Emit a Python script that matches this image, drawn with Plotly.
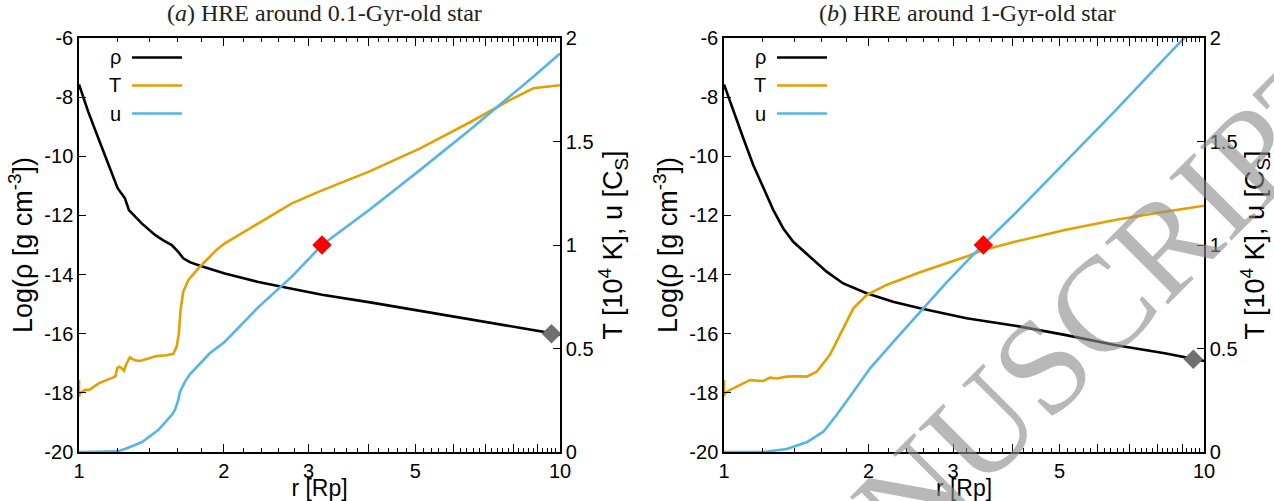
import numpy as np
import plotly.graph_objects as go

W, H = 1274, 501
ML, MR, MT, MB = 79, 70, 38, 49
PW, PH = W - ML - MR, H - MT - MB

# ---------------- data: panel (a) 0.1-Gyr-old star ----------------
r_rho_a = [1.0, 1.045, 1.097, 1.15, 1.203, 1.246, 1.27, 1.35, 1.439, 1.50, 1.559, 1.608,
           1.647, 1.70, 1.784, 2.01, 2.36, 2.77, 3.2, 4.03, 5.12, 6.5, 8.26, 9.6, 10.0]
rho_a = [-7.57, -8.49, -9.39, -10.24, -11.08, -11.42, -11.82, -12.27, -12.66, -12.85, -13.0, -13.23,
         -13.45, -13.58, -13.70, -13.96, -14.25, -14.48, -14.68, -14.94, -15.23, -15.51, -15.80, -15.98, -16.03]

r_T_a = [1.0, 1.0, 1.005, 1.03, 1.05, 1.071, 1.097, 1.123, 1.15, 1.178, 1.19, 1.201, 1.214, 1.227,
         1.24, 1.256, 1.276, 1.29, 1.307, 1.339, 1.405, 1.45, 1.52, 1.571, 1.596, 1.613, 1.626,
         1.647, 1.688, 1.784, 1.93, 2.01, 2.36, 2.77, 3.2, 4.03, 5.12, 6.5, 7.86, 8.8, 10.0]
T_a = [0.348, 0.268, 0.284, 0.300, 0.300, 0.313, 0.330, 0.341, 0.352, 0.360, 0.364, 0.405, 0.412, 0.405,
       0.393, 0.428, 0.457, 0.450, 0.443, 0.440, 0.455, 0.464, 0.467, 0.474, 0.509, 0.573, 0.686,
       0.774, 0.831, 0.895, 0.976, 1.008, 1.105, 1.201, 1.264, 1.357, 1.467, 1.593, 1.700, 1.757, 1.772]

r_u_a = [1.0, 1.2, 1.246, 1.35, 1.461, 1.559, 1.583, 1.608, 1.621, 1.661, 1.70, 1.77, 1.87, 2.01,
         2.36, 2.77, 3.2, 4.03, 5.12, 6.5, 7.86, 8.8, 10.0]
u_a = [0.0, 0.003, 0.015, 0.047, 0.106, 0.179, 0.203, 0.250, 0.290, 0.340, 0.375, 0.420, 0.477, 0.533,
       0.700, 0.847, 1.000, 1.173, 1.363, 1.557, 1.716, 1.813, 1.925]

sonic_a = (3.2, 1.0)      # red diamond (r, u)
edge_a = (9.6, -16.0)     # grey diamond (r, log rho)

# ---------------- data: panel (b) 1-Gyr-old star ----------------
r_rho_b = [1.0, 1.046, 1.097, 1.151, 1.207, 1.267, 1.329, 1.394, 1.51, 1.636, 1.772, 1.982, 2.25,
           2.56, 3.2, 4.04, 5.13, 6.52, 8.28, 9.5, 10.0]
rho_b = [-7.57, -8.49, -9.39, -10.30, -11.08, -11.82, -12.44, -12.89, -13.40, -13.90, -14.30, -14.63, -14.92,
         -15.14, -15.48, -15.73, -16.04, -16.38, -16.66, -16.86, -16.92]

r_T_b = [1.0, 1.0, 1.005, 1.03, 1.063, 1.1, 1.133, 1.17, 1.207, 1.247, 1.287, 1.351, 1.42, 1.487,
         1.56, 1.662, 1.772, 1.86, 1.982, 2.18, 2.56, 3.2, 3.47, 4.04, 5.13, 6.52, 8.28, 10.0]
T_b = [0.348, 0.270, 0.284, 0.300, 0.316, 0.335, 0.348, 0.345, 0.343, 0.359, 0.355, 0.364, 0.366, 0.364,
       0.388, 0.469, 0.598, 0.694, 0.758, 0.807, 0.868, 0.944, 0.976, 1.016, 1.072, 1.121, 1.161, 1.190]

r_u_b = [1.0, 1.207, 1.351, 1.487, 1.61, 1.716, 1.86, 2.015, 2.25, 2.56, 2.906, 3.2, 3.47, 4.04,
         5.13, 6.52, 8.28, 9.2, 10.0]
u_b = [0.0, 0.0, 0.014, 0.047, 0.098, 0.179, 0.291, 0.404, 0.531, 0.675, 0.818, 0.92, 1.003, 1.152,
       1.397, 1.647, 1.902, 2.014, 2.10]

sonic_b = (3.47, 1.0)
edge_b = (9.5, -16.86)

# ---------------- axis labels ----------------
x_major = [1, 2, 3, 4, 5, 6, 7, 8, 9, 10]
x_major_text = ["1", "2", "3", "", "5", "", "", "", "", "10"]
y_left_vals = [-20, -18, -16, -14, -12, -10, -8, -6]
y_left_text = ["-20", "-18", "-16", "-14", "-12", "-10", "-8", "-6"]
y_right_vals = [0, 0.5, 1, 1.5, 2]
y_right_text = ["0", "0.5", "1", "1.5", "2"]
titles = ["(<i>a</i>) HRE around 0.1-Gyr-old star", "(<i>b</i>) HRE around 1-Gyr-old star"]
legend_names = ["ρ", "T", "u"]

C_RHO, C_T, C_U = "#000000", "#E69F00", "#56B4E9"
LW = 2.6
FONT = "Liberation Sans"
FS = 20      # tick labels / legend
FSX = 23     # x-axis title
FSY = 27     # y-axis titles

minor_vals = [float(v) for v in np.round(np.arange(1.0, 10.001, 0.2), 1) if abs(v - round(v)) > 1e-6]


def px2x(px):
    return (px - ML) / PW


def py2y(py):
    return (H - MB - py) / PH


fig = go.Figure()

panels = [
    dict(rr=r_rho_a, rho=rho_a, rT=r_T_a, T=T_a, ru=r_u_a, u=u_a, sonic=sonic_a, edge=edge_a,
         xa="x", ya="y", ya2="y2"),
    dict(rr=r_rho_b, rho=rho_b, rT=r_T_b, T=T_b, ru=r_u_b, u=u_b, sonic=sonic_b, edge=edge_b,
         xa="x2", ya="y3", ya2="y4"),
]

for p in panels:
    fig.add_trace(go.Scatter(x=p["rr"], y=p["rho"], mode="lines", line=dict(color=C_RHO, width=LW),
                             xaxis=p["xa"], yaxis=p["ya"], showlegend=False, name="ρ"))
    fig.add_trace(go.Scatter(x=p["rT"], y=p["T"], mode="lines", line=dict(color=C_T, width=LW),
                             xaxis=p["xa"], yaxis=p["ya2"], showlegend=False, name="T"))
    fig.add_trace(go.Scatter(x=p["ru"], y=p["u"], mode="lines", line=dict(color=C_U, width=LW),
                             xaxis=p["xa"], yaxis=p["ya2"], showlegend=False, name="u"))
    fig.add_trace(go.Scatter(x=[p["edge"][0]], y=[p["edge"][1]], mode="markers",
                             marker=dict(symbol="diamond", size=15, color="#707070"),
                             xaxis=p["xa"], yaxis=p["ya"], showlegend=False))
    fig.add_trace(go.Scatter(x=[p["sonic"][0]], y=[p["sonic"][1]], mode="markers",
                             marker=dict(symbol="diamond", size=15, color="#FF0000"),
                             xaxis=p["xa"], yaxis=p["ya2"], showlegend=False))

# empty traces so that the minor-tick overlay axes get drawn
for xa, ya in [("x3", "y"), ("x4", "y"), ("x5", "y3"), ("x6", "y3")]:
    fig.add_trace(go.Scatter(x=[], y=[], xaxis=xa, yaxis=ya, showlegend=False, hoverinfo="skip"))

dom_a = [0, (560 - ML) / PW]
dom_b = [(724 - ML) / PW, 1]

xcommon = dict(type="log", range=[0, 1], tickmode="array", tickvals=x_major, ticktext=x_major_text,
               ticks="inside", ticklen=8, tickwidth=1.2, tickcolor="black", automargin=False,
               showline=True, linecolor="black", linewidth=1.5, mirror="ticks",
               showgrid=False, zeroline=False,
               tickfont=dict(family=FONT, size=FS, color="black"),
               title=dict(text="r [Rp]", font=dict(family=FONT, size=FSX, color="black"), standoff=2))

xminor = dict(type="log", range=[0, 1], tickmode="array", tickvals=minor_vals, ticks="inside",
              ticklen=4, tickwidth=1.2, tickcolor="black", showticklabels=False, showline=False,
              showgrid=False, zeroline=False, automargin=False)

ycommon = dict(range=[-20, -6], tickmode="array", tickvals=y_left_vals, ticktext=y_left_text,
               ticks="inside", ticklen=7, tickwidth=1.2, tickcolor="black", automargin=False,
               showline=True, linecolor="black", linewidth=1.5, showgrid=False, zeroline=False,
               tickfont=dict(family=FONT, size=FS, color="black"),
               title=dict(text="Log(ρ [g cm<sup>-3</sup>])", font=dict(family=FONT, size=FSY, color="black"),
                          standoff=4))

y2common = dict(range=[0, 2], tickmode="array", tickvals=y_right_vals, ticktext=y_right_text,
                side="right", ticks="inside", ticklen=7, tickwidth=1.2, tickcolor="black", automargin=False,
                showline=True, linecolor="black", linewidth=1.5, showgrid=False, zeroline=False,
                tickfont=dict(family=FONT, size=FS, color="black"),
                title=dict(text="T [10<sup>4</sup> K], u [C<sub>S</sub>]",
                           font=dict(family=FONT, size=FSY, color="black"), standoff=8))

fig.update_layout(
    width=W, height=H, margin=dict(l=ML, r=MR, t=MT, b=MB, autoexpand=False),
    paper_bgcolor="white", plot_bgcolor="rgba(0,0,0,0)",
    xaxis=dict(xcommon, domain=dom_a, anchor="y"),
    yaxis=dict(ycommon, anchor="x"),
    yaxis2=dict(y2common, anchor="x", overlaying="y"),
    xaxis2=dict(xcommon, domain=dom_b, anchor="y3"),
    yaxis3=dict(ycommon, anchor="x2"),
    yaxis4=dict(y2common, anchor="x2", overlaying="y3"),
    xaxis3=dict(xminor, domain=dom_a, anchor="y", overlaying="x", side="bottom"),
    xaxis4=dict(xminor, domain=dom_a, anchor="y", overlaying="x", side="top"),
    xaxis5=dict(xminor, domain=dom_b, anchor="y3", overlaying="x2", side="bottom"),
    xaxis6=dict(xminor, domain=dom_b, anchor="y3", overlaying="x2", side="top"),
)

annotations = []
shapes = []
# panel titles
for title, cx in zip(titles, [324, 967]):
    annotations.append(dict(text=title, x=px2x(cx), y=py2y(13), xref="paper", yref="paper",
                            xanchor="center", yanchor="middle", showarrow=False,
                            font=dict(family="Liberation Serif", size=24, color="#222222")))
# gnuplot-style legends (label, then line sample)
for x0 in [79, 724]:
    for i, (name, col) in enumerate(zip(legend_names, [C_RHO, C_T, C_U])):
        yy = 57.5 + 28 * i
        annotations.append(dict(text=name, x=px2x(x0 + 44), y=py2y(yy), xref="paper", yref="paper",
                                xanchor="right", yanchor="middle", showarrow=False,
                                font=dict(family=FONT, size=FS, color="black")))
        shapes.append(dict(type="line", xref="paper", yref="paper",
                           x0=px2x(x0 + 53), x1=px2x(x0 + 103), y0=py2y(yy), y1=py2y(yy),
                           line=dict(color=col, width=LW)))
# watermark
annotations.append(dict(text="MANUSCRIPT", x=px2x(1031), y=py2y(376), xref="paper", yref="paper",
                        xanchor="center", yanchor="middle", showarrow=False, textangle=-45,
                        font=dict(family="Liberation Serif", size=135, color="rgba(140,140,140,0.62)")))

fig.update_layout(annotations=annotations, shapes=shapes)
fig.write_html("out.html")
